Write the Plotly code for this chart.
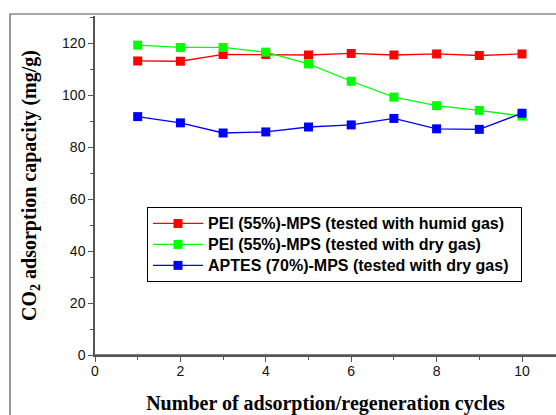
import plotly.graph_objects as go

cycles = [1, 2, 3, 4, 5, 6, 7, 8, 9, 10]
pei_humid = [113.1, 113.0, 115.6, 115.6, 115.4, 116.0, 115.4, 115.8, 115.2, 115.8]
pei_dry = [119.2, 118.3, 118.3, 116.5, 112.0, 105.3, 99.2, 95.9, 94.1, 91.9]
aptes_dry = [91.7, 89.3, 85.4, 85.8, 87.7, 88.5, 91.0, 87.0, 86.8, 93.0]

names = [
    "PEI (55%)-MPS (tested with humid gas)",
    "PEI (55%)-MPS (tested with dry gas)",
    "APTES (70%)-MPS (tested with dry gas)",
]
colors = ["#ff0000", "#00ff00", "#0000ff"]
series = [pei_humid, pei_dry, aptes_dry]

W, H = 556, 415
ml, mr, mt, mb = 95, 0, 16, 60
pw, ph = W - ml - mr, H - mt - mb
px_per_x = 42.7
xmax = pw / px_per_x
ymax = 130.4

fig = go.Figure()
for i, (name, col, vals) in enumerate(zip(names, colors, series)):
    label = '<span style="font-size:16px">' + name + '</span>'
    if i == 0:
        label += "&nbsp;&nbsp;&nbsp;"
    fig.add_trace(go.Scatter(
        x=cycles, y=vals, name=label, mode="lines+markers",
        line=dict(color=col, width=1.3),
        marker=dict(symbol="square", size=9, color=col),
    ))

axis_common = dict(
    showgrid=False, zeroline=False, showline=True,
    linecolor="#555555", linewidth=1.5,
    ticks="outside", ticklen=5, tickwidth=1.2, tickcolor="#555555",
    tickfont=dict(family="Liberation Sans, Arial", size=14, color="#111111"),
    minor=dict(ticks="outside", ticklen=3, tickwidth=1, tickcolor="#555555"),
)

fig.update_layout(
    width=W, height=H,
    margin=dict(l=ml, r=mr, t=mt, b=mb, pad=0),
    paper_bgcolor="white", plot_bgcolor="white",
    showlegend=True,
    legend=dict(
        x=(147 - ml) / pw, y=(H - mb - 207) / ph, xanchor="left", yanchor="top",
        bordercolor="#000000", borderwidth=1, bgcolor="white",
        font=dict(family="Liberation Sans, Arial", size=13.8, color="#000000", weight="bold"),
        tracegroupgap=0, itemwidth=50,
    ),
    xaxis=dict(
        range=[0, xmax], tickvals=[0, 2, 4, 6, 8, 10],
        ticklabelstandoff=-3,
        title=dict(text="<b>Number of adsorption/regeneration cycles</b>",
                   font=dict(family="Liberation Serif, Times New Roman", size=20, color="#000000"),
                   standoff=20),
        **axis_common,
    ),
    yaxis=dict(
        range=[0, ymax], tickvals=[0, 20, 40, 60, 80, 100, 120],
        title=dict(text="<b>CO<sub>2</sub> adsorption capacity (mg/g)</b>",
                   font=dict(family="Liberation Serif, Times New Roman", size=20, color="#000000"),
                   standoff=20),
        **axis_common,
    ),
)
fig.update_xaxes(minor=dict(dtick=1, tick0=0))
fig.update_yaxes(minor=dict(dtick=10, tick0=0))

# x-axis baseline at y=0 in black
fig.add_shape(type="line", xref="paper", yref="y", x0=0, x1=1, y0=0, y1=0,
              line=dict(color="#000000", width=1))

# outer frame
fig.add_shape(type="rect", xref="paper", yref="paper",
              x0=(10 - ml) / pw, x1=1.05, y0=-0.2, y1=(H - mb - 14) / ph,
              line=dict(color="#555555", width=1.2), fillcolor="rgba(0,0,0,0)", layer="below")

fig.write_html("out.html")
